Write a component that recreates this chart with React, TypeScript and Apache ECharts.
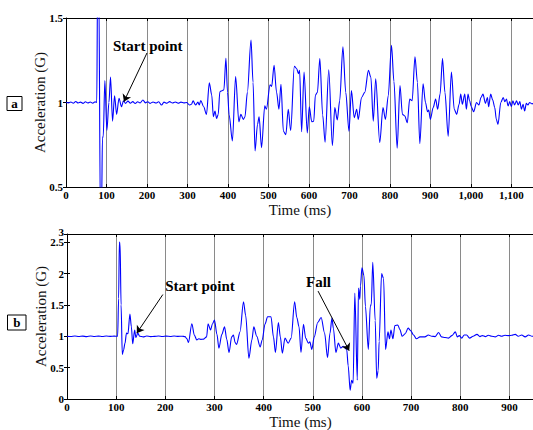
import React, { useEffect, useRef } from "react";
import * as echarts from "echarts";

// ---- Panel a ----
const timeA = [0, 6, 12, 18, 24, 30, 36, 42, 48, 54, 60, 66, 72, 76, 78, 81, 85, 88, 90, 92, 96, 101, 106, 110, 115, 120, 125, 131, 137, 142, 147, 153, 159, 165, 171, 177, 183, 190, 196, 202, 208, 215, 222, 229, 236, 242, 249, 256, 263, 270, 277, 284, 291, 298, 305, 310, 314, 320, 326, 329, 333, 340, 347, 354, 360, 364, 368, 372, 376, 380, 384, 390, 395, 399, 403, 411, 419, 427, 432, 438, 442, 448, 457, 462, 467, 473, 477, 483, 491, 495, 504, 508, 514, 520, 526, 531, 537, 543, 549, 555, 564, 570, 574, 577, 582, 588, 596, 601, 607, 612, 616, 621, 627, 634, 640, 649, 658, 664, 670, 676, 684, 691, 699, 705, 712, 718, 722, 730, 738, 747, 753, 759, 765, 775, 783, 789, 796, 804, 810, 818, 825, 831, 837, 843, 849, 855, 862, 868, 874, 882, 888, 893, 896, 900, 907, 913, 918, 924, 930, 936, 944, 952, 959, 965, 971, 975, 979, 985, 989, 993, 997, 1001, 1007, 1014, 1020, 1025, 1030, 1036, 1041, 1044, 1049, 1054, 1059, 1063, 1067, 1074, 1080, 1084, 1088, 1092, 1096, 1100, 1104, 1108, 1113, 1117, 1121, 1125, 1129, 1133, 1137, 1141, 1145, 1151, 1156];
const accelA = [1.0, 0.998, 1.003, 0.996, 1.006, 0.997, 1.002, 0.995, 1.004, 0.997, 1.003, 0.996, 1.004, 1.0, 1.7, 1.7, 0.3, 0.4, 0.79, 0.8, 1.13, 0.835, 1.0, 1.15, 0.89, 1.04, 0.93, 1.025, 0.975, 1.01, 0.995, 1.008, 0.996, 1.005, 0.994, 1.004, 0.997, 1.015, 0.998, 1.004, 0.995, 1.003, 0.997, 1.004, 0.985, 1.002, 0.996, 1.005, 0.997, 1.003, 0.996, 1.002, 0.998, 1.0, 0.985, 0.99, 1.01, 0.985, 1.002, 0.985, 1.012, 0.975, 0.93, 1.117, 1.044, 0.916, 0.95, 0.905, 0.93, 1.064, 1.068, 1.075, 1.262, 1.06, 0.926, 0.772, 1.153, 0.886, 0.93, 0.9, 0.915, 1.06, 1.37, 1.12, 0.713, 0.87, 0.915, 0.733, 0.98, 0.96, 1.104, 1.095, 1.22, 1.062, 0.96, 1.107, 0.83, 0.81, 0.96, 0.834, 1.214, 1.2, 1.17, 1.19, 0.827, 1.18, 0.82, 0.975, 0.886, 0.89, 1.044, 1.06, 1.26, 0.926, 0.765, 1.194, 0.745, 0.97, 0.897, 1.01, 1.33, 1.06, 0.83, 1.07, 0.91, 0.96, 0.9, 1.03, 1.06, 1.19, 1.15, 0.89, 1.14, 0.763, 0.97, 0.9, 1.04, 1.338, 1.125, 0.73, 1.1, 0.93, 0.92, 0.88, 1.02, 1.01, 1.27, 1.12, 0.757, 1.11, 1.0, 0.945, 0.955, 0.9, 0.97, 1.02, 0.96, 1.05, 1.26, 1.06, 0.8, 1.18, 0.96, 0.93, 0.99, 1.05, 0.99, 1.05, 0.96, 1.05, 1.01, 0.975, 0.945, 1.0, 0.985, 1.03, 1.05, 0.995, 1.03, 0.975, 1.05, 1.015, 0.97, 0.9, 0.87, 1.0, 1.03, 1.005, 1.02, 0.98, 1.005, 0.975, 1.01, 0.985, 1.01, 0.985, 1.005, 0.96, 0.99, 0.95, 0.995, 0.985, 1.0, 0.992, 0.995];

// ---- Panel b ----
const timeB = [0, 8, 16, 24, 32, 40, 48, 56, 64, 72, 80, 88, 96, 103, 105, 106.5, 108, 110, 112.5, 115, 118, 121, 124, 128, 131, 133.6, 137.7, 140, 144, 148, 155, 162, 170, 178, 186, 194, 202, 210, 218, 226, 234, 240, 244, 247, 254, 259, 264, 268, 272, 278, 284, 287, 292, 296, 300, 305, 309, 315, 320.5, 325, 329.6, 335, 338.5, 342, 345, 352, 359, 363.5, 370, 376, 380, 386, 393, 397, 403, 408, 415, 420, 424, 430, 434, 438, 443.5, 450, 456, 463, 467.5, 472, 476, 481, 485.6, 491, 494, 498, 503, 510, 517, 524, 530, 535, 539, 542, 547, 552, 557, 562, 569, 572, 576, 579, 582, 585.5, 590.5, 593, 595.6, 597, 600, 604, 607, 613, 617, 619, 622, 627, 630, 633, 635, 640, 644, 648, 653, 656, 659, 663, 667, 673, 677, 682, 688, 694, 699, 705, 711, 718, 728, 735, 742, 749, 756, 762, 769, 776, 783, 790, 794, 798, 803, 808, 813, 819, 826, 834, 840, 845, 851, 857, 864, 871, 878, 884, 891, 898, 905, 912, 918, 925, 932, 939, 946, 950];
const accelB = [1.0, 0.997, 1.003, 0.996, 1.002, 0.995, 1.004, 0.997, 1.002, 0.996, 1.003, 0.998, 1.002, 1.0, 1.6, 2.5, 2.47, 1.5, 0.71, 0.78, 0.89, 1.05, 1.04, 1.355, 1.15, 0.88, 1.1, 0.98, 1.05, 1.0, 0.99, 1.005, 0.995, 0.998, 1.003, 0.996, 1.002, 0.997, 1.004, 0.998, 1.001, 0.995, 0.96, 0.9, 1.2, 1.02, 0.94, 0.96, 0.95, 0.955, 0.99, 1.2, 1.1, 1.2, 1.26, 1.03, 0.81, 1.03, 1.15, 0.95, 0.74, 0.99, 1.02, 0.9, 0.87, 1.07, 1.55, 1.33, 0.65, 0.94, 1.15, 1.0, 0.83, 0.94, 1.2, 1.31, 1.31, 0.99, 0.74, 1.22, 0.99, 0.73, 0.97, 0.89, 0.97, 1.55, 1.3, 1.15, 0.74, 1.19, 0.97, 0.89, 0.91, 0.79, 0.99, 1.22, 1.3, 1.05, 0.66, 1.05, 1.29, 1.12, 0.74, 0.89, 0.81, 0.84, 0.79, 0.53, 0.14, 0.3, 0.25, 1.69, 0.3, 1.77, 1.59, 1.8, 2.09, 1.97, 1.48, 0.79, 1.48, 1.51, 2.18, 1.25, 0.33, 0.45, 0.92, 2.0, 1.92, 0.79, 1.07, 0.96, 1.1, 0.96, 1.17, 1.18, 1.11, 1.0, 1.04, 1.13, 1.09, 1.02, 0.96, 0.99, 0.99, 1.02, 1.0, 0.995, 1.06, 0.99, 0.98, 0.97, 1.01, 1.07, 0.99, 1.01, 0.97, 1.02, 1.02, 0.97, 1.0, 1.03, 0.995, 1.01, 0.995, 1.015, 1.0, 0.99, 1.015, 1.0, 1.015, 1.01, 1.015, 1.03, 1.0, 1.02, 0.99, 1.02, 1.0, 1.005];

const xTicksA = ["0", "100", "200", "300", "400", "500", "600", "700", "800", "900", "1,000", "1,100"];
const yTicksB = ["0", "0.5", "1", "1.5", "2", "2.5"];
const yTopLabelB = "3";

const SERIF = "'Liberation Serif', 'Times New Roman', serif";

export default function App() {
  const ref = useRef<HTMLDivElement>(null);
  useEffect(() => {
    if (!ref.current) return;
    const chart = echarts.init(ref.current, null, { renderer: "svg" });
    const dataA = timeA.map((t, i) => [t, accelA[i]]);
    const dataB = timeB.map((t, i) => [t, accelB[i]]);

    const tickLabel = { fontFamily: SERIF, fontWeight: "bold" as const, fontSize: 11, color: "#000" };
    const nameStyle = { fontFamily: SERIF, fontSize: 15, color: "#111" };

    const xBase = (gridIndex: number, max: number) => ({
      type: "value",
      gridIndex,
      min: 0,
      max,
      interval: 100,
      position: "bottom",
      name: "Time (ms)",
      nameLocation: "middle",
      nameGap: 15,
      nameMoveOverlap: false,
      nameTextStyle: nameStyle,
      axisLine: { show: true, onZero: false, lineStyle: { color: "#000", width: 1 } },
      axisTick: { show: true, inside: true, length: 3, lineStyle: { color: "#000" } },
      axisLabel: {
        ...tickLabel,
        margin: 2,
        showMaxLabel: false,
        formatter: (v: number) => xTicksA[Math.round(v / 100)] ?? String(v),
      },
      splitLine: { show: true, lineStyle: { color: "#8a8a8a", width: 1 } },
    });
    const xTop = (gridIndex: number, max: number) => ({
      type: "value",
      gridIndex,
      min: 0,
      max,
      interval: 100,
      position: "top",
      axisLine: { show: true, onZero: false, lineStyle: { color: "#000", width: 1 } },
      axisTick: { show: true, inside: true, length: 3, lineStyle: { color: "#000" } },
      axisLabel: { show: false },
      splitLine: { show: false },
    });
    const lineStyle = { color: "#0000ff", width: 1.1 };

    chart.setOption({
      animation: false,
      backgroundColor: "#fff",
      grid: [
        { left: 66, top: 18, width: 468, height: 169 },
        { left: 67, top: 234, width: 467, height: 170 },
      ],
      xAxis: [xBase(0, 1156), xTop(0, 1156), xBase(1, 950), xTop(1, 950)],
      yAxis: [
        {
          type: "value",
          gridIndex: 0,
          min: 0.5,
          max: 1.5,
          interval: 0.5,
          name: "Acceleration (G)",
          nameLocation: "middle",
          nameGap: 19,
          nameMoveOverlap: false,
          nameTextStyle: nameStyle,
          axisLine: { show: true, lineStyle: { color: "#000", width: 1 } },
          axisTick: { show: true, inside: true, length: 3, lineStyle: { color: "#000" } },
          axisLabel: { ...tickLabel, margin: 3 },
          splitLine: { show: false },
        },
        {
          type: "value",
          gridIndex: 0,
          position: "right",
          min: 0.5,
          max: 1.5,
          interval: 0.5,
          axisLine: { show: false },
          axisTick: { show: true, inside: true, length: 3, lineStyle: { color: "#000" } },
          axisLabel: { show: false },
          splitLine: { show: false },
        },
        {
          type: "value",
          gridIndex: 1,
          min: 0,
          max: 2.63,
          interval: 0.5,
          name: "Acceleration (G)",
          nameLocation: "middle",
          nameGap: 19,
          nameMoveOverlap: false,
          nameTextStyle: nameStyle,
          axisLine: { show: true, lineStyle: { color: "#000", width: 1 } },
          axisTick: { show: true, inside: true, length: 3, lineStyle: { color: "#000" } },
          axisLabel: {
            ...tickLabel,
            margin: 3,
            showMaxLabel: false,
            hideOverlap: false,
            formatter: (v: number) => (v > 2.55 ? "" : yTicksB[Math.round(v / 0.5)]),
          },
          splitLine: { show: false },
        },
        {
          type: "value",
          gridIndex: 1,
          position: "right",
          min: 0,
          max: 2.63,
          interval: 0.5,
          axisLine: { show: false },
          axisTick: { show: true, inside: true, length: 3, lineStyle: { color: "#000" } },
          axisLabel: { show: false },
          splitLine: { show: false },
        },
        {
          type: "value",
          gridIndex: 1,
          position: "left",
          min: 0,
          max: 2.63,
          interval: 0.5,
          axisLine: { show: false },
          axisTick: { show: false },
          axisLabel: {
            ...tickLabel,
            margin: 3,
            showMaxLabel: true,
            showMinLabel: false,
            verticalAlign: "bottom",
            lineHeight: 11,
            padding: [0, 0, -3, 0],
            formatter: (v: number) => (v > 2.55 ? yTopLabelB : ""),
          },
          splitLine: { show: false },
        },
      ],
      series: [
        {
          type: "line",
          xAxisIndex: 0,
          yAxisIndex: 0,
          data: dataA,
          showSymbol: false,
          symbol: "none",
          smooth: 0.3,
          smoothMonotone: "x",
          clip: true,
          lineStyle,
          markLine: {
            silent: true,
            symbol: ["none", "arrow"],
            symbolSize: 7,
            label: { show: false },
            lineStyle: { color: "#000", width: 1, type: "solid" },
            data: [[{ coord: [200, 1.293] }, { coord: [143, 1.005] }]],
          },
          markPoint: {
            symbol: "rect",
            symbolSize: 1,
            itemStyle: { color: "rgba(0,0,0,0)" },
            label: { show: true, position: "inside", fontFamily: SERIF, fontWeight: "bold", fontSize: 15, color: "#000" },
            data: [{ coord: [202, 1.334], value: "Start point", label: { formatter: "Start point" } }],
          },
        },
        {
          type: "line",
          xAxisIndex: 2,
          yAxisIndex: 2,
          data: dataB,
          showSymbol: false,
          symbol: "none",
          smooth: 0.3,
          smoothMonotone: "x",
          clip: true,
          lineStyle,
          markLine: {
            silent: true,
            symbol: ["none", "arrow"],
            symbolSize: 7,
            label: { show: false },
            lineStyle: { color: "#000", width: 1, type: "solid" },
            data: [
              [{ coord: [195, 1.665] }, { coord: [142, 1.05] }],
              [{ coord: [510.7, 1.72] }, { coord: [574, 0.77] }],
            ],
          },
          markPoint: {
            symbol: "rect",
            symbolSize: 1,
            itemStyle: { color: "rgba(0,0,0,0)" },
            label: { show: true, position: "inside", fontFamily: SERIF, fontWeight: "bold", fontSize: 15, color: "#000" },
            data: [
              { coord: [270.6, 1.8], value: "Start point", label: { formatter: "Start point" } },
              { coord: [511.7, 1.86], value: "Fall", label: { formatter: "Fall" } },
            ],
          },
        },
      ],
      graphic: [
        { type: "rect", shape: { x: 7, y: 96.5, width: 15, height: 14 }, style: { fill: "#fff", stroke: "#000", lineWidth: 1 } },
        { type: "text", x: 14.5, y: 103.5, style: { text: "a", font: `bold 13px ${SERIF}`, fill: "#000", align: "center", verticalAlign: "middle" } },
        { type: "rect", shape: { x: 7.5, y: 315, width: 18.5, height: 15 }, style: { fill: "#fff", stroke: "#000", lineWidth: 1 } },
        { type: "text", x: 16.75, y: 322.5, style: { text: "b", font: `bold 13px ${SERIF}`, fill: "#000", align: "center", verticalAlign: "middle" } },
      ],
    });
    return () => chart.dispose();
  }, []);
  return <div ref={ref} style={{ position: "fixed", left: 0, top: 0, width: 534, height: 430 }} />;
}
